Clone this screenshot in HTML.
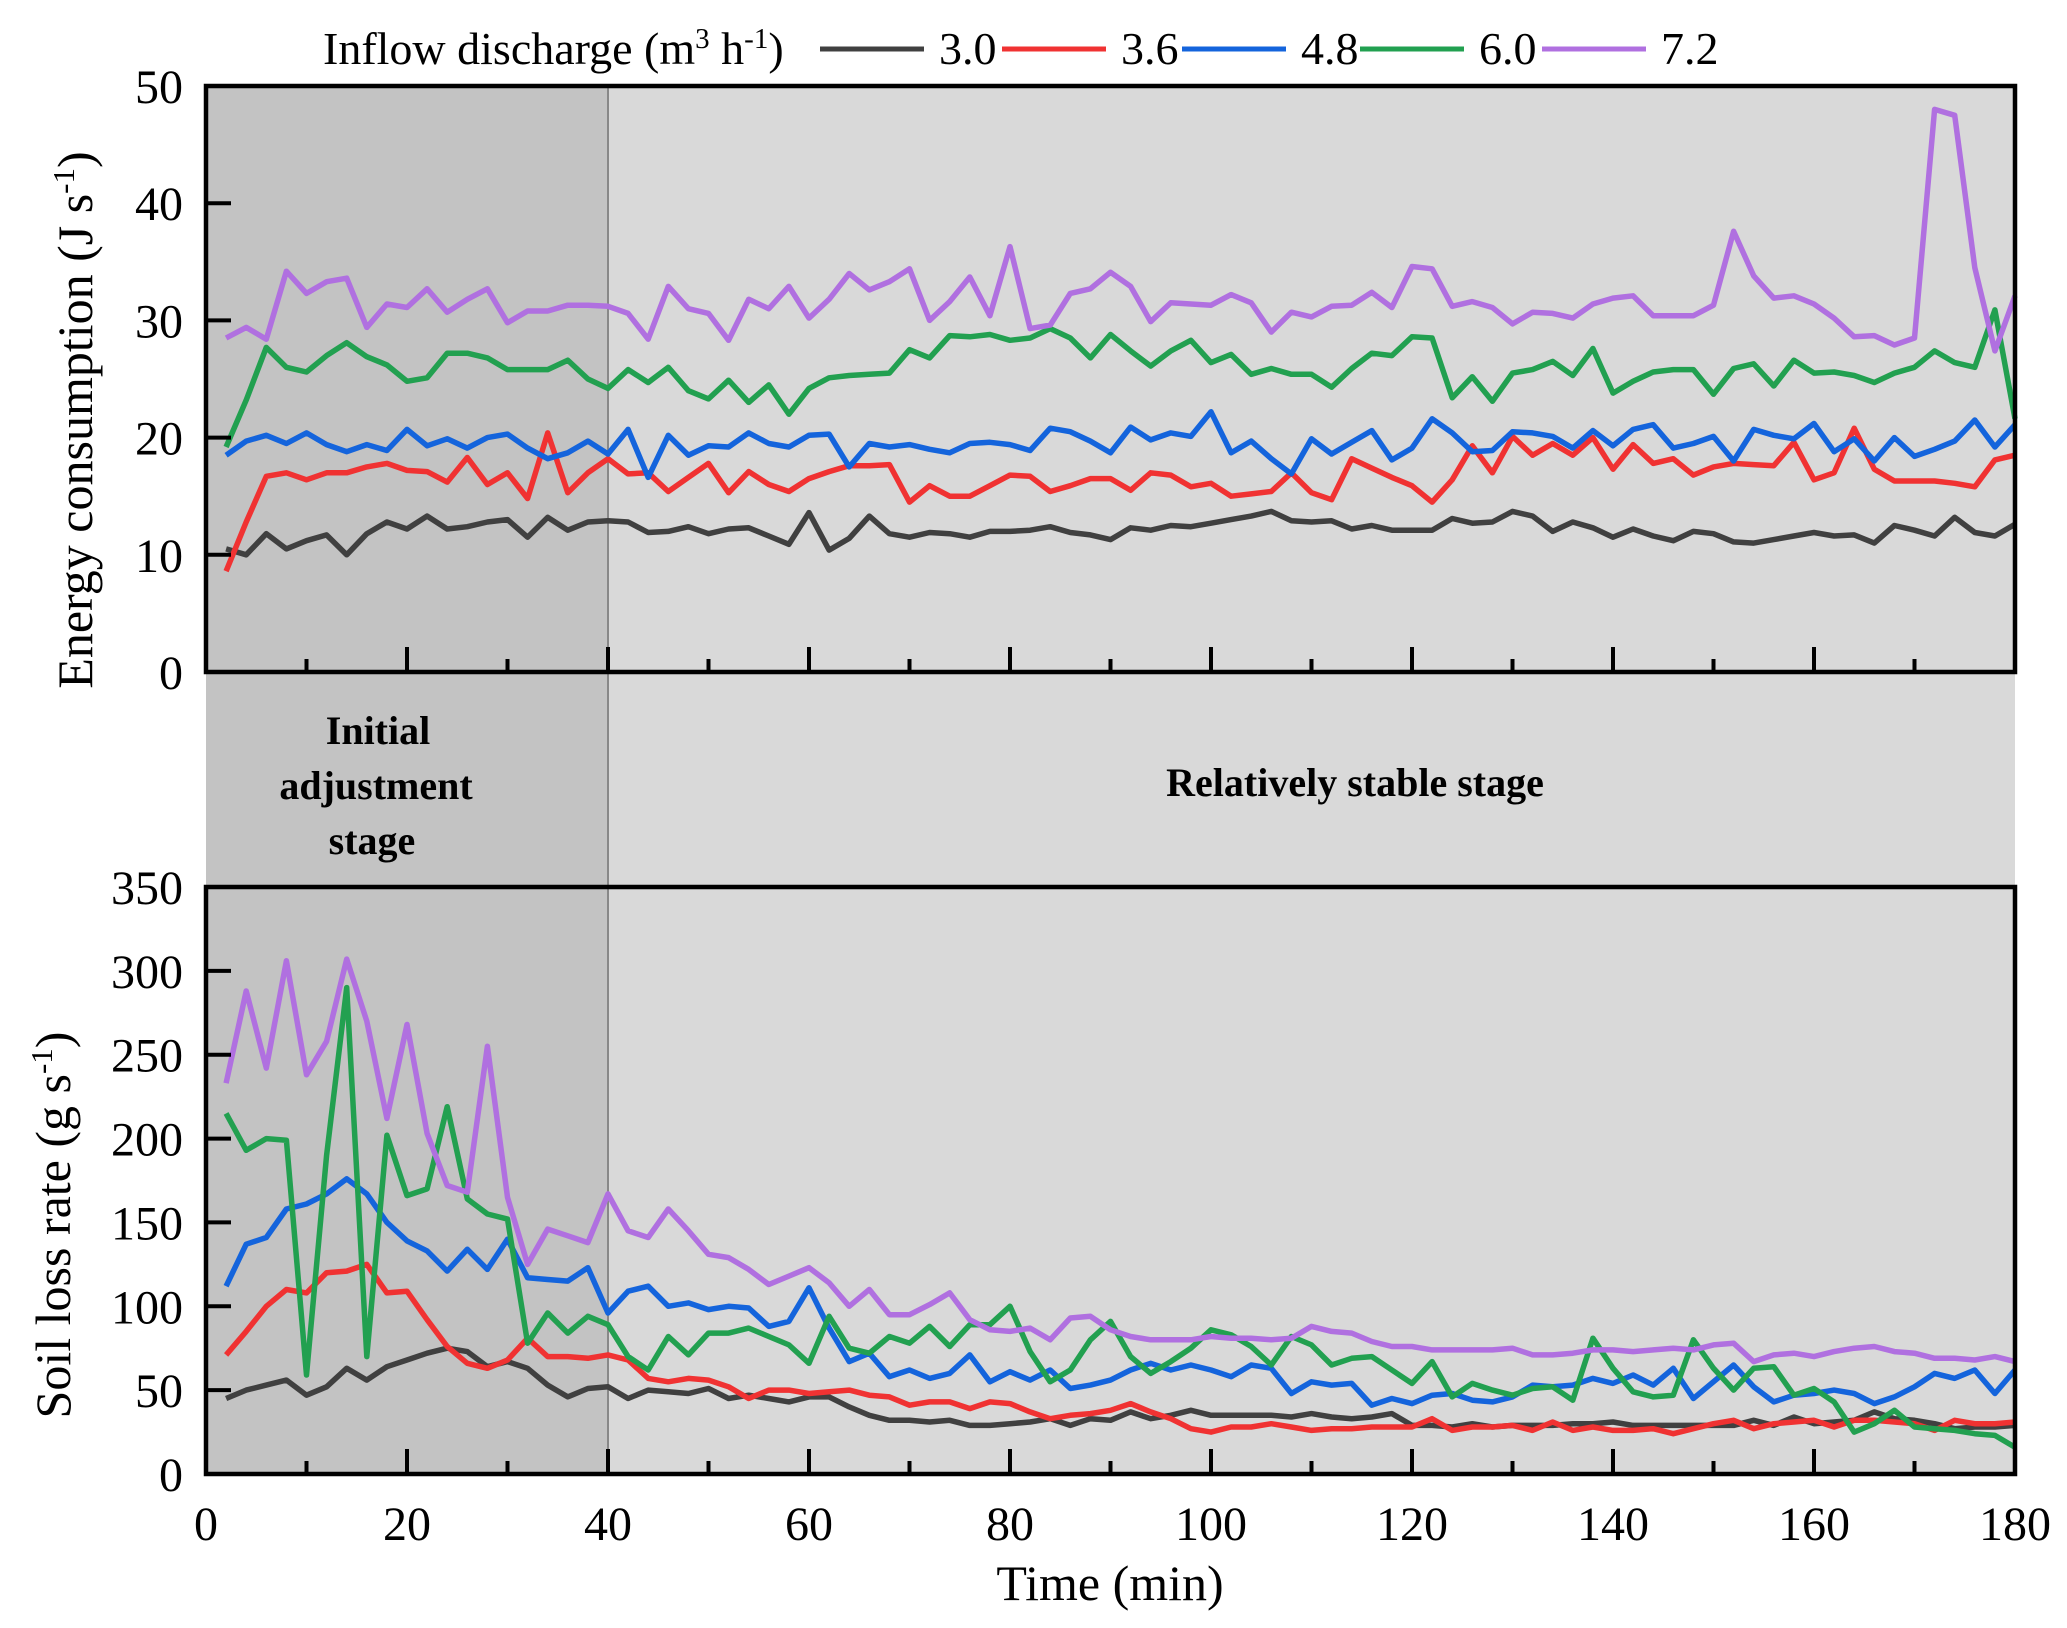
<!DOCTYPE html>
<html><head><meta charset="utf-8"><style>
body{margin:0;background:#fff}
svg{display:block;font-family:"Liberation Serif",serif}
</style></head><body>
<svg id="chart" width="2067" height="1628" viewBox="0 0 2067 1628" xmlns="http://www.w3.org/2000/svg">
<g id="bg"></g><g id="grid"></g><g id="lines"></g><g id="axes"></g><g id="labels"></g>
</svg>
<script>
const times=[];for(let t=2;t<=180;t+=2)times.push(t);
const seriesNames=["3.0","3.6","4.8","6.0","7.2"];
const energy30=[10.5,10,11.8,10.5,11.2,11.7,10,11.8,12.8,12.2,13.3,12.2,12.4,12.8,13,11.5,13.2,12.1,12.8,12.9,12.8,11.9,12,12.4,11.8,12.2,12.3,11.6,10.9,13.6,10.4,11.4,13.3,11.8,11.5,11.9,11.8,11.5,12,12,12.1,12.4,11.9,11.7,11.3,12.3,12.1,12.5,12.4,12.7,13,13.3,13.7,12.9,12.8,12.9,12.2,12.5,12.1,12.1,12.1,13.1,12.7,12.8,13.7,13.3,12,12.8,12.3,11.5,12.2,11.6,11.2,12,11.8,11.1,11,11.3,11.6,11.9,11.6,11.7,11,12.5,12.1,11.6,13.2,11.9,11.6,12.6];
const energy36=[8.6,12.8,16.7,17,16.4,17,17,17.5,17.8,17.2,17.1,16.2,18.3,16,17,14.8,20.4,15.3,17,18.2,16.9,17,15.4,16.6,17.8,15.3,17.1,16,15.4,16.5,17.1,17.6,17.6,17.7,14.5,15.9,15,15,15.9,16.8,16.7,15.4,15.9,16.5,16.5,15.5,17,16.8,15.8,16.1,15,15.2,15.4,17,15.3,14.7,18.2,17.4,16.6,15.9,14.5,16.4,19.3,17,20.1,18.5,19.5,18.5,20,17.3,19.4,17.8,18.2,16.8,17.5,17.8,17.7,17.6,19.6,16.4,17,20.8,17.3,16.3,16.3,16.3,16.1,15.8,18.1,18.5];
const energy48=[18.5,19.7,20.2,19.5,20.4,19.4,18.8,19.4,18.9,20.7,19.3,19.9,19.1,20,20.3,19.1,18.2,18.7,19.7,18.6,20.7,16.6,20.2,18.5,19.3,19.2,20.4,19.5,19.2,20.2,20.3,17.5,19.5,19.2,19.4,19,18.7,19.5,19.6,19.4,18.9,20.8,20.5,19.7,18.7,20.9,19.8,20.4,20.1,22.2,18.7,19.7,18.2,16.9,19.9,18.6,19.6,20.6,18.1,19.1,21.6,20.4,18.8,18.9,20.5,20.4,20.1,19.1,20.6,19.3,20.7,21.1,19.1,19.5,20.1,18,20.7,20.2,19.9,21.2,18.8,19.9,18,20,18.4,19,19.7,21.5,19.2,21.1];
const energy60=[19.2,23.2,27.7,26,25.6,27,28.1,26.9,26.2,24.8,25.1,27.2,27.2,26.8,25.8,25.8,25.8,26.6,25,24.2,25.8,24.7,26,24,23.3,24.9,23,24.5,22,24.2,25.1,25.3,25.4,25.5,27.5,26.8,28.7,28.6,28.8,28.3,28.5,29.3,28.5,26.8,28.8,27.4,26.1,27.4,28.3,26.4,27.1,25.4,25.9,25.4,25.4,24.3,25.9,27.2,27,28.6,28.5,23.4,25.2,23.1,25.5,25.8,26.5,25.3,27.6,23.8,24.8,25.6,25.8,25.8,23.7,25.9,26.3,24.4,26.6,25.5,25.6,25.3,24.7,25.5,26,27.4,26.4,26,30.9,21.6];
const energy72=[28.5,29.4,28.4,34.2,32.3,33.3,33.6,29.4,31.4,31.1,32.7,30.7,31.8,32.7,29.8,30.8,30.8,31.3,31.3,31.2,30.6,28.4,32.9,31,30.6,28.3,31.8,31,32.9,30.2,31.8,34,32.6,33.3,34.4,30,31.6,33.7,30.4,36.3,29.3,29.6,32.3,32.7,34.1,32.9,29.9,31.5,31.4,31.3,32.2,31.5,29,30.7,30.3,31.2,31.3,32.4,31.1,34.6,34.4,31.2,31.6,31.1,29.7,30.7,30.6,30.2,31.4,31.9,32.1,30.4,30.4,30.4,31.3,37.6,33.8,31.9,32.1,31.4,30.2,28.6,28.7,27.9,28.5,48,47.5,34.5,27.4,32.1];
const soil30=[45,50,53,56,47,52,63,56,64,68,72,75,73,64,67,63,53,46,51,52,45,50,49,48,51,45,47,45,43,46,46,40,35,32,32,31,32,29,29,30,31,33,29,33,32,37,33,35,38,35,35,35,35,34,36,34,33,34,36,29,29,28,30,28,29,29,29,30,30,31,29,29,29,29,29,29,32,29,34,30,31,32,37,33,32,30,27,28,28,29];
const soil36=[71,85,100,110,108,120,121,125,108,109,92,76,66,63,68,81,70,70,69,71,68,57,55,57,56,52,45,50,50,48,49,50,47,46,41,43,43,39,43,42,37,33,35,36,38,42,37,33,27,25,28,28,30,28,26,27,27,28,28,28,33,26,28,28,29,26,31,26,28,26,26,27,24,27,30,32,27,30,31,32,28,32,32,31,30,26,32,30,30,31];
const soil48=[112,137,141,158,161,167,176,167,150,139,133,121,134,122,140,117,116,115,123,96,109,112,100,102,98,100,99,88,91,111,87,67,72,58,62,57,60,71,55,61,56,62,51,53,56,62,66,62,65,62,58,65,63,48,55,53,54,41,45,42,47,48,44,43,46,53,52,53,57,54,59,53,63,45,55,65,52,43,47,48,50,48,42,46,52,60,57,62,48,62];
const soil60=[215,193,200,199,59,190,290,70,202,166,170,219,164,155,152,78,96,84,94,89,70,62,82,71,84,84,87,82,77,66,94,75,72,82,78,88,76,89,89,100,73,55,62,80,91,70,60,67,75,86,83,76,65,82,77,65,69,70,62,54,67,46,54,50,47,51,52,44,81,63,49,46,47,80,63,50,63,64,47,51,43,25,30,38,28,27,26,24,23,16];
const soil72=[233,288,242,306,238,258,307,270,212,268,203,172,168,255,165,125,146,142,138,167,145,141,158,145,131,129,122,113,118,123,114,100,110,95,95,101,108,92,86,85,87,80,93,94,86,82,80,80,80,82,81,81,80,81,88,85,84,79,76,76,74,74,74,74,75,71,71,72,74,74,73,74,75,74,77,78,67,71,72,70,73,75,76,73,72,69,69,68,70,67];
const xTicks=[0,20,40,60,80,100,120,140,160,180];
const energyTicks=[0,10,20,30,40,50];
const soilTicks=[0,50,100,150,200,250,300,350];

const NS="http://www.w3.org/2000/svg";
const colors=["#404040","#f03232","#1464dc","#22a050","#b070e0"];
const X0=206,X1=2015;
const xs=t=>X0+(t/180)*(X1-X0);
const pTop={y0:672,y1:86,max:50};
const pBot={y0:1474,y1:887,max:350};
const ys=(p,v)=>p.y0-(v/p.max)*(p.y0-p.y1);
function mk(parent,tag,attrs){const e=document.createElementNS(NS,tag);for(const k in attrs)e.setAttribute(k,attrs[k]);document.getElementById(parent).appendChild(e);return e;}
let e=mk("bg","rect",{x:X0,y:pTop.y1,width:xs(40)-X0,height:pBot.y0-pTop.y1,fill:"#c3c3c3"});


e=mk("bg","rect",{x:xs(40),y:pTop.y1,width:X1-xs(40),height:pBot.y0-pTop.y1,fill:"#d9d9d9"});


e=mk("bg","line",{x1:xs(40),x2:xs(40),y1:pTop.y1,y2:pBot.y0,stroke:"#888","stroke-width":2});


function drawSeries(p,arrs,prefix){
  arrs.forEach((arr,i)=>{
    const pts=arr.map((v,j)=>xs(times[j]).toFixed(1)+","+ys(p,v).toFixed(1)).join(" ");
    const l=mk("lines","polyline",{points:pts,fill:"none",stroke:colors[i],"stroke-width":5.5,"stroke-linejoin":"round"});
    
    
  });
}
drawSeries(pTop,[energy30,energy36,energy48,energy60,energy72],"energy");
drawSeries(pBot,[soil30,soil36,soil48,soil60,soil72],"soil");
function drawAxes(p,yt,name){
  const f=mk("axes","rect",{x:X0,y:p.y1,width:X1-X0,height:p.y0-p.y1,fill:"none",stroke:"#000","stroke-width":4.5});
  
  
  for(let t=0;t<=180;t+=10){
    const maj=t%20===0;
    const tk=mk("axes","line",{x1:xs(t),x2:xs(t),y1:p.y0,y2:p.y0-(maj?25:13),stroke:"#000","stroke-width":4});
    
    
  }
  yt.forEach(v=>{
    const tk=mk("axes","line",{x1:X0,x2:X0+25,y1:ys(p,v),y2:ys(p,v),stroke:"#000","stroke-width":4});
    
    
    const tx=mk("labels","text",{x:183,y:ys(p,v)+17,"text-anchor":"end","font-size":48});
    tx.textContent=v;
    
    
  });
}
drawAxes(pTop,energyTicks,"energy");
drawAxes(pBot,soilTicks,"soil");
xTicks.forEach(t=>{
  const tx=mk("labels","text",{x:xs(t),y:1540,"text-anchor":"middle","font-size":48});
  tx.textContent=t;
  
  
});
const legX=[820,1002,1182,1360,1542];
colors.forEach((c,i)=>{
  const l=mk("labels","line",{x1:legX[i],x2:legX[i]+104,y1:49,y2:49,stroke:c,"stroke-width":5});
  
  
  const t=mk("labels","text",{x:legX[i]+119,y:64,"font-size":46});
  t.textContent=seriesNames[i];
  
  
});
</script>
<svg style="position:absolute;left:0;top:0" width="2067" height="1628" font-family="Liberation Serif, serif">
<text x="323" y="64" font-size="46">Inflow discharge (m<tspan dy="-16" font-size="29">3</tspan><tspan dy="16"> h</tspan><tspan dy="-16" font-size="29">-1</tspan><tspan dy="16">)</tspan></text>
<text transform="translate(92,420) rotate(-90)" text-anchor="middle" font-size="50">Energy consumption (J s<tspan dy="-18" font-size="31">-1</tspan><tspan dy="18">)</tspan></text>
<text transform="translate(70,1225) rotate(-90)" text-anchor="middle" font-size="50">Soil loss rate (g s<tspan dy="-18" font-size="31">-1</tspan><tspan dy="18">)</tspan></text>
<text x="1110" y="1600" text-anchor="middle" font-size="50">Time (min)</text>
<g font-weight="bold" font-size="40" text-anchor="middle">
<text x="378" y="744">Initial</text>
<text x="376" y="799">adjustment</text>
<text x="372" y="854">stage</text>
<text x="1355" y="796">Relatively stable stage</text>
</g>
</svg>
</body></html>
